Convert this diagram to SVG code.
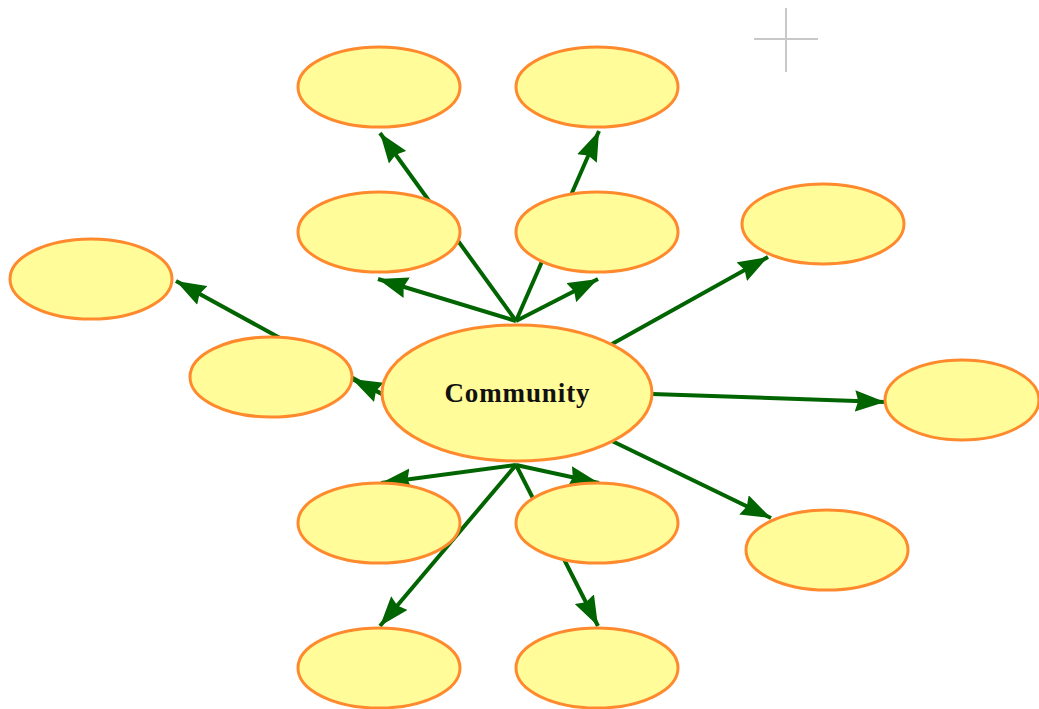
<svg xmlns="http://www.w3.org/2000/svg" width="1039" height="709" viewBox="0 0 1039 709">
  <style>
    .node ellipse { fill: #FFFC99; stroke: #FF8A2E; stroke-width: 3; }
    .edge { stroke: #006400; stroke-width: 4; fill: none; marker-end: url(#arrow); }
    .label { font-family: "Liberation Serif", "Times New Roman", serif; font-weight: bold; font-size: 27px; fill: #111; }
  </style>
  <defs>
    <marker id="arrow" markerUnits="userSpaceOnUse" markerWidth="30" markerHeight="22" viewBox="0 0 28 20" refX="28" refY="10" orient="auto">
      <path d="M0,0 L28,10 L0,20 L3,10 z" fill="#006400"/>
    </marker>
  </defs>
  <rect width="1039" height="709" fill="#ffffff"/>
  <g id="crosshair" stroke="#c8c8c8" stroke-width="2">
    <line x1="786" y1="8" x2="786" y2="72"/>
    <line x1="754" y1="39" x2="818" y2="39"/>
  </g>
  <g id="connectors">
    <line class="edge" x1="516" y1="321" x2="380" y2="133"/>
    <line class="edge" x1="516" y1="321" x2="599" y2="131"/>
    <line class="edge" x1="516" y1="321" x2="378" y2="279"/>
    <line class="edge" x1="516" y1="321" x2="598" y2="279"/>
    <line class="edge" x1="612" y1="344" x2="768" y2="257"/>
    <line class="edge" x1="652" y1="394" x2="885" y2="402"/>
    <line class="edge" x1="612" y1="441" x2="771" y2="518"/>
    <line class="edge" x1="516" y1="465" x2="381" y2="483"/>
    <line class="edge" x1="516" y1="465" x2="599" y2="483"/>
    <line class="edge" x1="516" y1="465" x2="380" y2="626"/>
    <line class="edge" x1="516" y1="465" x2="598" y2="626"/>
    <line class="edge" x1="382" y1="394" x2="176" y2="281"/>
    <line class="edge" x1="382" y1="394" x2="352" y2="379"/>
  </g>
  <g id="n-top-left" class="node"><ellipse cx="379" cy="87" rx="81" ry="40"/></g>
  <g id="n-top-right" class="node"><ellipse cx="597" cy="87" rx="81" ry="40"/></g>
  <g id="n-mid-left" class="node"><ellipse cx="379" cy="232" rx="81" ry="40"/></g>
  <g id="n-mid-right" class="node"><ellipse cx="597" cy="232" rx="81" ry="40"/></g>
  <g id="n-right-upper" class="node"><ellipse cx="823" cy="224" rx="81" ry="40"/></g>
  <g id="n-far-left" class="node"><ellipse cx="91" cy="279" rx="81" ry="40"/></g>
  <g id="n-left" class="node"><ellipse cx="271" cy="377" rx="81" ry="40"/></g>
  <g id="n-far-right" class="node"><ellipse cx="962" cy="400" rx="77" ry="40"/></g>
  <g id="n-low-left" class="node"><ellipse cx="379" cy="523" rx="81" ry="40"/></g>
  <g id="n-low-right" class="node"><ellipse cx="597" cy="523" rx="81" ry="40"/></g>
  <g id="n-right-lower" class="node"><ellipse cx="827" cy="550" rx="81" ry="40"/></g>
  <g id="n-bottom-left" class="node"><ellipse cx="379" cy="668" rx="81" ry="40"/></g>
  <g id="n-bottom-right" class="node"><ellipse cx="597" cy="668" rx="81" ry="40"/></g>
  <g id="n-community" class="node">
    <ellipse cx="517" cy="393" rx="135" ry="68"/>
    <text class="label" x="517" y="402" text-anchor="middle" textLength="145" lengthAdjust="spacing">Community</text>
  </g>
</svg>
